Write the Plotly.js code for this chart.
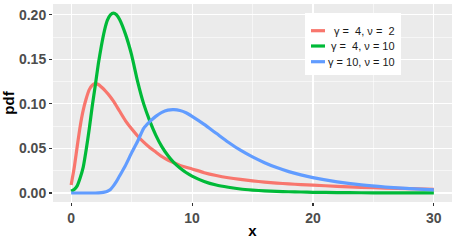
<!DOCTYPE html>
<html>
<head>
<meta charset="utf-8">
<script src="https://cdn.plot.ly/plotly-3.0.1.min.js"></script>
<style>html,body{margin:0;padding:0;background:#fff;}#chart{width:458px;height:242px;}</style>
</head>
<body>
<div id="chart"></div>
<script>
// x positions at which values were read
const xs = [0, 0.25, 0.5, 0.75, 1, 1.25, 1.5, 1.75, 2, 2.25, 2.5, 2.75, 3, 3.25, 3.5, 3.75, 4, 4.5, 5, 5.5, 6, 6.5, 7, 7.5, 8, 8.5, 9, 9.5, 10, 11, 12, 13, 14, 15, 16, 17, 18, 19, 20, 22, 24, 26, 28, 30];

// gamma = 4, nu = 2
const pdfG4N2 = [0.009, 0.028, 0.052, 0.075, 0.093, 0.106, 0.116, 0.121, 0.1227, 0.1218, 0.119, 0.1158, 0.112, 0.1077, 0.103, 0.0976, 0.092, 0.081, 0.072, 0.064, 0.057, 0.051, 0.046, 0.041, 0.037, 0.034, 0.031, 0.0288, 0.027, 0.0228, 0.0196, 0.0171, 0.0152, 0.0136, 0.0122, 0.0111, 0.0102, 0.0094, 0.0088, 0.0075, 0.0064, 0.0055, 0.0048, 0.0042];

// gamma = 4, nu = 10
const pdfG4N10 = [0.002, 0.004, 0.008, 0.017, 0.029, 0.049, 0.072, 0.098, 0.121, 0.145, 0.165, 0.182, 0.194, 0.2, 0.2019, 0.2, 0.195, 0.178, 0.155, 0.125, 0.1, 0.081, 0.065, 0.052, 0.042, 0.034, 0.028, 0.023, 0.019, 0.013, 0.009, 0.0065, 0.0045, 0.0033, 0.0024, 0.0018, 0.0014, 0.0011, 0.0008, 0.0005, 0.0003, 0.0002, 0.0001, 0.0001];

// gamma = 10, nu = 10
const pdfG10N10 = [0, 0, 0, 0, 0, 0, 0, 0, 0, 0.0002, 0.0005, 0.001, 0.002, 0.004, 0.008, 0.013, 0.019, 0.031, 0.045, 0.058, 0.0725, 0.08, 0.086, 0.0905, 0.093, 0.0935, 0.0925, 0.09, 0.086, 0.077, 0.067, 0.057, 0.048, 0.0405, 0.034, 0.0285, 0.024, 0.0203, 0.0172, 0.0125, 0.0091, 0.0067, 0.0049, 0.0036];

const seriesNames = ["\u03B3 =\u00A0 4, \u03BD =\u00A0 2", "\u03B3 =\u00A0 4, \u03BD = 10", "\u03B3 = 10, \u03BD = 10"];
const seriesColors = ["#F8766D", "#00BA38", "#619CFF"];
const seriesValues = [pdfG4N2, pdfG4N10, pdfG10N10];

const xTicks = [0, 10, 20, 30];
const yTicks = [0, 0.05, 0.10, 0.15, 0.20];
const yTickText = ["0.00", "0.05", "0.10", "0.15", "0.20"];

const traces = seriesValues.map((v, i) => ({
  x: xs, y: v, type: "scatter", mode: "lines", name: seriesNames[i],
  line: {color: seriesColors[i], width: 3.2, shape: "spline", smoothing: 0.6},
  showlegend: false, hoverinfo: "skip"
}));

// custom ggplot-style legend
const px2x = p => (p - 53) / 399;
const px2y = p => (202 - p) / 198;
const shapes = [{type: "rect", xref: "paper", yref: "paper", x0: px2x(305), x1: px2x(401), y0: px2y(75), y1: px2y(13), fillcolor: "#FFFFFF", line: {width: 0}, layer: "above"}];
const annotations = [];
const rowY = [30.7, 46, 61.7];
seriesNames.forEach((n, i) => {
  shapes.push({type: "line", xref: "paper", yref: "paper", x0: px2x(311), x1: px2x(325), y0: px2y(rowY[i]), y1: px2y(rowY[i]), line: {color: seriesColors[i], width: 3.2}, layer: "above"});
  annotations.push({xref: "paper", yref: "paper", x: px2x(397), y: px2y(rowY[i]), xanchor: "right", yanchor: "middle", text: n, showarrow: false, font: {family: "Liberation Sans, Arial, sans-serif", size: 11, color: "#1A1A1A"}});
});

const layout = {
  width: 458, height: 242,
  margin: {l: 53, r: 6, t: 4, b: 40, pad: 0},
  paper_bgcolor: "#FFFFFF", plot_bgcolor: "#EBEBEB",
  font: {family: "Liberation Sans, Arial, sans-serif"},
  xaxis: {
    range: [-1.5, 31.5], tickvals: xTicks, ticktext: xTicks.map(String),
    showgrid: true, gridcolor: "#FFFFFF", gridwidth: 1.1, zeroline: false, showline: false,
    ticks: "outside", ticklen: 3, tickwidth: 1.1, tickcolor: "#333333",
    tickfont: {size: 14, color: "#4D4D4D", family: "Liberation Sans, Arial, sans-serif", weight: "bold"},
    minor: {tickvals: [5, 15, 25], showgrid: true, gridcolor: "#FFFFFF", gridwidth: 0.55, ticks: ""},
    title: {text: "<b>x</b>", font: {size: 15, color: "#000000"}, standoff: 0},
    fixedrange: true
  },
  yaxis: {
    range: [-0.0101, 0.2121], tickvals: yTicks, ticktext: yTickText,
    showgrid: true, gridcolor: "#FFFFFF", gridwidth: 1.1, zeroline: false, showline: false,
    ticks: "outside", ticklen: 3, tickwidth: 1.1, tickcolor: "#333333",
    tickfont: {size: 14, color: "#4D4D4D", family: "Liberation Sans, Arial, sans-serif", weight: "bold"},
    minor: {tickvals: [0.025, 0.075, 0.125, 0.175], showgrid: true, gridcolor: "#FFFFFF", gridwidth: 0.55, ticks: ""},
    title: {text: "<b>pdf</b>", font: {size: 15, color: "#000000"}, standoff: 4},
    fixedrange: true
  },
  shapes: shapes,
  annotations: annotations,
  showlegend: false
};

Plotly.newPlot("chart", traces, layout, {displayModeBar: false, staticPlot: true});
</script>
</body>
</html>
